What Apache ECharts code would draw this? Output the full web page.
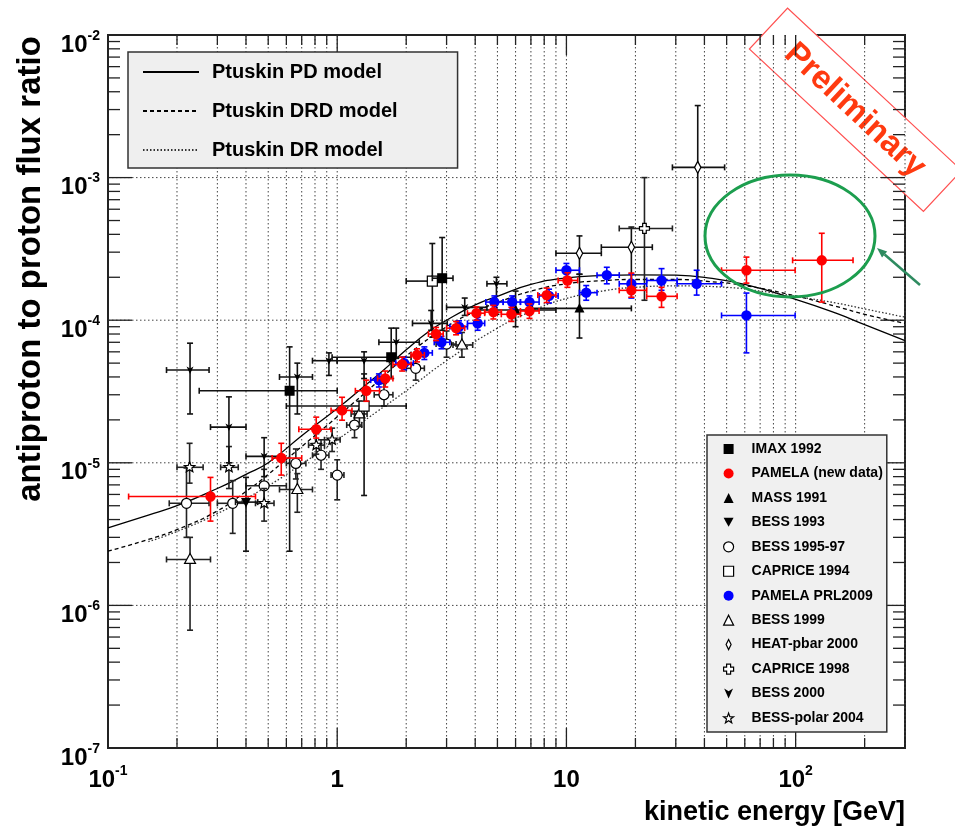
<!DOCTYPE html>
<html><head><meta charset="utf-8">
<script src="https://cdn.jsdelivr.net/npm/echarts@6.0.0/dist/echarts.min.js"></script>
<style>html,body{margin:0;padding:0;background:#fff}#c{width:955px;height:834px}</style>
</head><body><div id="c"></div>
<script>
// ---------------- data ----------------
const xDecades = [0.1, 1, 10, 100];
const yDecades = [1e-7, 1e-6, 1e-5, 1e-4, 1e-3, 1e-2];
const modelNames = ['Ptuskin PD model', 'Ptuskin DRD model', 'Ptuskin DR model'];
const ptuskinPD = [[0.1,3.5e-6],[0.15,4.3e-6],[0.2,5.0e-6],[0.3,6.6e-6],[0.4,8.3e-6],[0.5,1.0e-5],[0.7,1.55e-5],[1,2.4e-5],[1.3,3.4e-5],[1.6,4.5e-5],[2,6.2e-5],[2.5,8.3e-5],[3,1.0e-4],[4,1.28e-4],[5,1.47e-4],[7,1.78e-4],[10,1.98e-4],[15,2.06e-4],[20,2.08e-4],[30,2.07e-4],[40,2.0e-4],[60,1.78e-4],[100,1.4e-4],[150,1.12e-4],[200,9.3e-5],[300,7.2e-5]];
const ptuskinDRD = [[0.1,2.4e-6],[0.15,2.9e-6],[0.2,3.4e-6],[0.3,4.6e-6],[0.4,6.3e-6],[0.5,8.3e-6],[0.7,1.3e-5],[1,2.1e-5],[1.5,3.7e-5],[2,5.6e-5],[3,9.0e-5],[4,1.15e-4],[5,1.33e-4],[7,1.6e-4],[10,1.8e-4],[15,1.9e-4],[20,1.93e-4],[30,1.93e-4],[40,1.88e-4],[60,1.75e-4],[100,1.48e-4],[150,1.25e-4],[200,1.1e-4],[300,9.5e-5]];
const ptuskinDR = [[0.15,2.8e-6],[0.2,3.3e-6],[0.3,4.4e-6],[0.5,6.9e-6],[0.7,9.8e-6],[1,1.45e-5],[1.5,2.3e-5],[2,3.2e-5],[3,5.2e-5],[5,8.8e-5],[7,1.15e-4],[10,1.42e-4],[15,1.62e-4],[20,1.7e-4],[30,1.74e-4],[50,1.7e-4],[70,1.6e-4],[100,1.47e-4],[150,1.32e-4],[200,1.2e-4],[300,1.05e-4]];

// each point: [E, ratio, Elow, Ehigh, ratioLow, ratioHigh]
const imax1992 = [[0.62,3.2e-5,0.25,1.0,2.4e-6,6.5e-5],[1.72,5.5e-5,0.95,2.1,3.9e-5,8.8e-5],[2.87,1.97e-4,2.6,3.2,8.5e-5,3.8e-4]];
const pamelaNew = [[0.28,5.8e-6,0.123,0.44,3.9e-6,7.9e-6],[0.57,1.08e-5,0.52,0.70,8.2e-6,1.37e-5],[0.81,1.72e-5,0.68,0.94,1.49e-5,2.09e-5],[1.05,2.33e-5,0.94,1.16,1.99e-5,2.88e-5],[1.34,3.2e-5,1.2,1.53,2.7e-5,3.8e-5],[1.62,3.9e-5,1.5,1.75,3.4e-5,4.4e-5],[1.92,4.9e-5,1.75,2.1,4.4e-5,5.5e-5],[2.23,5.7e-5,2.1,2.4,5.1e-5,6.3e-5],[2.7,8.0e-5,2.5,2.9,7.2e-5,8.9e-5],[3.3,8.8e-5,3.0,3.6,7.9e-5,9.8e-5],[4.05,1.12e-4,3.7,4.4,1.0e-4,1.24e-4],[4.8,1.14e-4,4.4,5.2,1.02e-4,1.27e-4],[5.75,1.1e-4,5.2,6.3,9.8e-5,1.23e-4],[6.9,1.16e-4,6.3,7.6,1.03e-4,1.3e-4],[8.2,1.5e-4,7.5,9.0,1.33e-4,1.68e-4],[10.1,1.9e-4,9.2,11.2,1.7e-4,2.15e-4],[19.2,1.62e-4,17,22.4,1.45e-4,2.14e-4],[26,1.47e-4,22.4,30.4,1.23e-4,1.7e-4],[61,2.24e-4,47.5,99.5,1.82e-4,2.77e-4],[130,2.63e-4,97,178,1.34e-4,4.07e-4]];
const mass1991 = [[6.0,1.18e-4,4.2,9.0,9.0e-5,1.6e-4],[11.4,1.21e-4,7.1,19.2,7.5e-5,2.1e-4]];
const bess1993 = [[0.40,5.3e-6,0.36,0.45,2.4e-6,7.9e-6]];
const bess9597 = [[0.22,5.2e-6,0.185,0.276,3.0e-6,9.2e-6],[0.35,5.2e-6,0.30,0.40,3.2e-6,7.5e-6],[0.48,6.9e-6,0.40,0.60,5.0e-6,9.0e-6],[0.66,9.9e-6,0.60,0.73,7.7e-6,1.25e-5],[0.85,1.13e-5,0.78,0.92,9.0e-6,1.45e-5],[1.0,8.2e-6,0.94,1.07,5.5e-6,1.05e-5],[1.19,1.84e-5,1.1,1.28,1.5e-5,2.3e-5],[1.6,3.0e-5,1.45,1.75,2.5e-5,3.6e-5],[2.2,4.6e-5,2.0,2.4,3.8e-5,5.6e-5],[3.0,6.8e-5,2.7,3.3,5.5e-5,8.4e-5]];
const caprice1994 = [[1.31,2.5e-5,0.6,2.0,5.9e-6,4.2e-5],[2.6,1.88e-4,2.0,2.7,7.6e-5,3.45e-4]];
const pamelaPRL2009 = [[1.52,3.8e-5,1.4,1.65,3.4e-5,4.2e-5],[1.96,5.0e-5,1.8,2.15,4.5e-5,5.5e-5],[2.4,5.9e-5,2.2,2.6,5.3e-5,6.5e-5],[2.85,7.0e-5,2.65,3.1,6.3e-5,7.7e-5],[3.4,9.0e-5,3.1,3.7,8.1e-5,9.9e-5],[4.1,9.5e-5,3.7,4.4,8.5e-5,1.05e-4],[4.85,1.34e-4,4.45,5.3,1.21e-4,1.48e-4],[5.8,1.34e-4,5.3,6.3,1.2e-4,1.48e-4],[6.9,1.34e-4,6.3,7.6,1.2e-4,1.48e-4],[8.4,1.48e-4,7.6,9.2,1.32e-4,1.65e-4],[10.0,2.24e-4,9.0,11.4,2.0e-4,2.5e-4],[12.2,1.56e-4,11.4,13.6,1.38e-4,1.75e-4],[15.0,2.07e-4,13.6,17,1.8e-4,2.35e-4],[19.2,1.8e-4,17,22.4,1.43e-4,2.1e-4],[26,1.9e-4,22.4,30.4,1.62e-4,2.3e-4],[37,1.8e-4,30.4,47.5,1.5e-4,2.24e-4],[61,1.08e-4,47.5,99.5,5.9e-5,1.55e-4]];
const bess1999 = [[0.228,2.1e-6,0.18,0.28,6.7e-7,3.0e-6],[0.67,6.5e-6,0.56,0.78,4.5e-6,8.4e-6],[1.25,2.2e-5,1.15,1.35,1.8e-5,2.7e-5],[3.5,6.7e-5,3.2,3.9,5.5e-5,8.2e-5]];
const heat2000 = [[11.4,2.95e-4,9.0,14.2,2.1e-4,3.9e-4],[19.2,3.25e-4,14.2,23.7,1.6e-4,4.5e-4],[37.4,1.18e-3,29,49,1.8e-4,3.2e-3]];
const caprice1998 = [[21.9,4.4e-4,17,29,1.38e-4,1.0e-3]];
const bess2000 = [[0.228,4.47e-5,0.18,0.276,2.2e-5,6.9e-5],[0.337,1.78e-5,0.28,0.40,1.0e-5,2.9e-5],[0.48,1.11e-5,0.40,0.56,8.0e-6,1.5e-5],[0.67,4.0e-5,0.56,0.78,2.2e-5,5.0e-5],[0.92,5.2e-5,0.78,1.0,4.1e-5,5.9e-5],[1.31,5.2e-5,1.0,1.69,3.9e-5,6.0e-5],[1.81,7.0e-5,1.52,2.28,5.4e-5,8.8e-5],[2.57,9.5e-5,2.13,3.02,8.5e-5,1.17e-4],[3.6,1.23e-4,3.0,4.5,1.08e-4,1.43e-4],[4.95,1.8e-4,4.5,5.5,1.1e-4,2.0e-4]];
const bessPolar2004 = [[0.227,9.3e-6,0.2,0.26,7.2e-6,1.37e-5],[0.337,9.3e-6,0.31,0.37,6.6e-6,1.3e-5],[0.48,5.2e-6,0.44,0.53,3.9e-6,6.6e-6],[0.81,1.33e-5,0.75,0.88,1.15e-5,1.6e-5],[0.95,1.45e-5,0.88,1.03,1.2e-5,1.75e-5]];

// ---------------- styling ----------------
const REG = "'Liberation Sans',Arial,sans-serif";

const experiments = [
  {name:'IMAX 1992', data:imax1992, marker:'square', color:'#000', bar:'#111'},
  {name:'PAMELA (new data)', data:pamelaNew, marker:'circle', color:'#ff0000', bar:'#ff0000'},
  {name:'MASS 1991', data:mass1991, marker:'triUp', color:'#000', bar:'#111'},
  {name:'BESS 1993', data:bess1993, marker:'triDown', color:'#000', bar:'#111'},
  {name:'BESS 1995-97', data:bess9597, marker:'oCircle', color:'#000', bar:'#222'},
  {name:'CAPRICE 1994', data:caprice1994, marker:'oSquare', color:'#000', bar:'#111'},
  {name:'PAMELA PRL2009', data:pamelaPRL2009, marker:'circle', color:'#0000ff', bar:'#0000ff'},
  {name:'BESS 1999', data:bess1999, marker:'oTri', color:'#000', bar:'#222'},
  {name:'HEAT-pbar 2000', data:heat2000, marker:'oDiamond', color:'#000', bar:'#111'},
  {name:'CAPRICE 1998', data:caprice1998, marker:'oCross', color:'#000', bar:'#222'},
  {name:'BESS 2000', data:bess2000, marker:'bess2000', color:'#000', bar:'#111'},
  {name:'BESS-polar 2004', data:bessPolar2004, marker:'oStar', color:'#000', bar:'#222'}
];
const drawOrder = ['BESS 1995-97','BESS 1999','BESS-polar 2004','BESS 2000','BESS 1993','CAPRICE 1994','IMAX 1992','MASS 1991','HEAT-pbar 2000','CAPRICE 1998','PAMELA PRL2009','PAMELA (new data)'];

const legendIcons = {
  square:'rect', circle:'circle', triUp:'triangle', triDown:'path://M0,0L10,0L5,9Z',
  oCircle:'circle', oSquare:'rect', oTri:'triangle', oDiamond:'path://M3,0L6,6L3,12L0,6Z',
  oCross:'path://M3,0L7,0L7,3L10,3L10,7L7,7L7,10L3,10L3,7L0,7L0,3L3,3Z',
  bess2000:'path://M0,0L4,2.5L8,0L4,9Z',
  oStar:'path://M5,0L6.2,3.4L9.8,3.5L7,5.7L8,9.2L5,7.2L2,9.2L3,5.7L0.2,3.5L3.8,3.4Z'
};

function starPts(cx, cy, R, r){
  const p=[];
  for(let i=0;i<10;i++){const a=-Math.PI/2+i*Math.PI/5;const rr=i%2?r:R;p.push([cx+rr*Math.cos(a),cy+rr*Math.sin(a)]);}
  return p;
}
function makeMarker(kind, cx, cy, color){
  const open = {fill:'#fff', stroke:'#000', lineWidth:1.2};
  switch(kind){
    case 'square': return {type:'rect', shape:{x:cx-5,y:cy-5,width:10,height:10}, style:{fill:color}};
    case 'circle': return {type:'circle', shape:{cx:cx,cy:cy,r:5.2}, style:{fill:color}};
    case 'triUp': return {type:'polygon', shape:{points:[[cx,cy-5.5],[cx+5,cy+4],[cx-5,cy+4]]}, style:{fill:color}};
    case 'triDown': return {type:'polygon', shape:{points:[[cx-5,cy-4],[cx+5,cy-4],[cx,cy+5.5]]}, style:{fill:color}};
    case 'oCircle': return {type:'circle', shape:{cx:cx,cy:cy,r:5}, style:open};
    case 'oSquare': return {type:'rect', shape:{x:cx-5,y:cy-5,width:10,height:10}, style:open};
    case 'oTri': return {type:'polygon', shape:{points:[[cx,cy-6],[cx+5.5,cy+4],[cx-5.5,cy+4]]}, style:open};
    case 'oDiamond': return {type:'polygon', shape:{points:[[cx,cy-6],[cx+3.2,cy],[cx,cy+6],[cx-3.2,cy]]}, style:open};
    case 'oCross': {const a=1.8,b=5; return {type:'polygon', shape:{points:[[cx-a,cy-b],[cx+a,cy-b],[cx+a,cy-a],[cx+b,cy-a],[cx+b,cy+a],[cx+a,cy+a],[cx+a,cy+b],[cx-a,cy+b],[cx-a,cy+a],[cx-b,cy+a],[cx-b,cy-a],[cx-a,cy-a]]}, style:open};}
    case 'bess2000': return {type:'polygon', shape:{points:[[cx-3.5,cy-3.5],[cx,cy-1.5],[cx+3.5,cy-3.5],[cx,cy+4]]}, style:{fill:color}};
    case 'oStar': return {type:'polygon', shape:{points:starPts(cx,cy,5.5,2.4)}, style:open};
  }
}
function errRender(marker, color, barColor){
  return function(params, api){
    const x=api.value(0), y=api.value(1);
    const c=api.coord([x,y]);
    const pl=api.coord([api.value(2),y]), pr=api.coord([api.value(3),y]);
    const pb=api.coord([x,api.value(4)]), pt=api.coord([x,api.value(5)]);
    const st={stroke:barColor, lineWidth:1.6};
    const k=3;
    const L=(x1,y1,x2,y2)=>({type:'line', shape:{x1,y1,x2,y2}, style:st});
    const ch=[
      L(pl[0],c[1],pr[0],c[1]), L(pl[0],c[1]-k,pl[0],c[1]+k), L(pr[0],c[1]-k,pr[0],c[1]+k),
      L(c[0],pb[1],c[0],pt[1]), L(c[0]-k,pb[1],c[0]+k,pb[1]), L(c[0]-k,pt[1],c[0]+k,pt[1]),
      makeMarker(marker,c[0],c[1],color)
    ];
    return {type:'group', children:ch};
  };
}
// axis decorations (ROOT-like inside ticks on four sides, dotted grid)
function decorRender(params, api){
  const cs=params.coordSys; const left=cs.x, top=cs.y, right=cs.x+cs.width, bottom=cs.y+cs.height;
  const ch=[];
  const tick={stroke:'#222', lineWidth:1.3};
  const grid={stroke:'#444', lineWidth:1, lineDash:[1.5,2.5]};
  for(let e=-1;e<=2;e++){
    for(let m=1;m<=9;m++){
      const v=m*Math.pow(10,e); if(v<0.1-1e-9||v>300+1e-9) continue;
      const px=api.coord([v,1e-4])[0];
      const len=m===1?20:10;
      if(v>0.1+1e-9) ch.push({type:'line', shape:{x1:px,y1:top,x2:px,y2:bottom}, style:grid});
      ch.push({type:'line', shape:{x1:px,y1:bottom,x2:px,y2:bottom-len}, style:tick});
      ch.push({type:'line', shape:{x1:px,y1:top,x2:px,y2:top+len}, style:tick});
    }
  }
  for(let e=-7;e<=-2;e++){
    for(let m=1;m<=9;m++){
      const v=m*Math.pow(10,e); if(v>1e-2*(1+1e-9)) continue;
      const py=api.coord([1,v])[1];
      const len=m===1?24:12;
      if(m===1&&e>-7&&e<-2) ch.push({type:'line', shape:{x1:left,y1:py,x2:right,y2:py}, style:grid});
      ch.push({type:'line', shape:{x1:left,y1:py,x2:left+len,y2:py}, style:tick});
      ch.push({type:'line', shape:{x1:right,y1:py,x2:right-len,y2:py}, style:tick});
    }
  }
  return {type:'group', children:ch};
}
function powLabel(v, isX){
  const l=Math.log10(v), e=Math.round(l);
  if(Math.abs(l-e)>1e-6) return '';
  if(isX && e===0) return '{b|1}';
  if(isX && e===1) return '{b|10}';
  return '{b|10}{s|'+e+'}';
}
const labelRich = {
  b:{fontSize:24, lineHeight:32, fontWeight:'bold', fontFamily:REG, color:'#000'},
  s:{fontSize:14, lineHeight:14, fontWeight:'bold', fontFamily:REG, color:'#000', verticalAlign:'top'}
};

const series = [];
series.push({type:'custom', name:'axes', silent:true, z:1, renderItem:decorRender, data:[[1,1e-4]], encode:{x:0,y:1}});
series.push({type:'line', name:modelNames[0], data:ptuskinPD, smooth:true, symbol:'none', z:2, lineStyle:{color:'#000', width:1.3, type:'solid'}, itemStyle:{color:'#000'}});
series.push({type:'line', name:modelNames[1], data:ptuskinDRD, smooth:true, symbol:'none', z:2, lineStyle:{color:'#000', width:1.3, type:[4,3]}, itemStyle:{color:'#000'}});
series.push({type:'line', name:modelNames[2], data:ptuskinDR, smooth:true, symbol:'none', z:2, lineStyle:{color:'#333', width:1.3, type:[1.5,2]}, itemStyle:{color:'#333'}});
drawOrder.forEach(n=>{
  const ex=experiments.find(e=>e.name===n);
  series.push({type:'custom', name:ex.name, z:3, renderItem:errRender(ex.marker, ex.color, ex.bar), data:ex.data, encode:{x:0,y:1}, itemStyle:{color:ex.color}});
});

const chart = echarts.init(document.getElementById('c'), null, {renderer:'canvas'});
chart.setOption({
  animation:false,
  backgroundColor:'#fff',
  grid:{left:108, top:35, right:50, bottom:86, show:true, borderColor:'#222', borderWidth:2, backgroundColor:'transparent', containLabel:false, outerBoundsMode:'none'},
  xAxis:{type:'log', logBase:10, min:0.1, max:300,
    axisLine:{show:false}, axisTick:{show:false}, splitLine:{show:false},
    axisLabel:{margin:16, formatter:v=>powLabel(v,true), rich:labelRich, showMaxLabel:false}},
  yAxis:{type:'log', logBase:10, min:1e-7, max:1e-2,
    axisLine:{show:false}, axisTick:{show:false}, splitLine:{show:false},
    axisLabel:{margin:8, formatter:v=>powLabel(v,false), rich:labelRich, verticalAlign:'middle', padding:[20,0,0,0]}},
  legend:[
    {orient:'vertical', left:128, top:52, padding:[10,60,8,14], itemWidth:56, itemHeight:14, itemGap:19,
     backgroundColor:'#efefef', borderColor:'#333', borderWidth:1.5, selectedMode:false,
     itemStyle:{opacity:0},
     textStyle:{fontSize:20, fontWeight:'bold', fontFamily:REG, color:'#000', padding:[0,0,0,8]},
     data:modelNames},
    {orient:'vertical', left:707, top:435, padding:[7,4,7,16], itemWidth:10, itemHeight:10, itemGap:10.45,
     backgroundColor:'#f0f0f0', borderColor:'#333', borderWidth:1.5, selectedMode:false,
     textStyle:{fontSize:14, fontWeight:'bold', fontFamily:REG, color:'#000', padding:[0,0,0,13]},
     data:experiments.map(ex=>{
       const open = ex.marker.charAt(0)==='o';
       return {name:ex.name, icon:legendIcons[ex.marker],
         itemStyle: open ? {color:'#fff', borderColor:'#000', borderWidth:1.2, opacity:1} : {color:ex.color, borderWidth:0, opacity:1}};
     })}
  ],
  graphic:[
    {type:'text', x:31, y:269, rotation:Math.PI/2, style:{text:'antiproton to proton flux ratio', font:"bold 33px "+REG, fill:'#000', align:'center', verticalAlign:'middle'}},
    {type:'text', x:905, y:813, style:{text:'kinetic energy [GeV]', font:"bold 27px "+REG, fill:'#000', align:'right', verticalAlign:'middle'}},
    {type:'ellipse', shape:{cx:790, cy:236, rx:85, ry:61}, style:{fill:'none', stroke:'#1c9e4e', lineWidth:3}, z:10},
    {type:'line', shape:{x1:920, y1:285, x2:884.6, y2:254.5}, style:{stroke:'#2e8b60', lineWidth:2.5}, z:10},
    {type:'polygon', shape:{points:[[877,248],[887.2,251.5],[882,257.5]]}, style:{fill:'#2e8b60'}, z:10},
    {type:'group', x:855.5, y:109.75, rotation:-43*Math.PI/180, z:20, children:[
      {type:'rect', shape:{x:-119, y:-28, width:238, height:56}, style:{fill:'#fff', stroke:'#ff5050', lineWidth:1.2}},
      {type:'text', x:0, y:1, style:{text:'Preliminary', font:"bold 33px "+REG, fill:'#ff3a10', align:'center', verticalAlign:'middle'}}
    ]}
  ],
  series:series
});
</script></body></html>
